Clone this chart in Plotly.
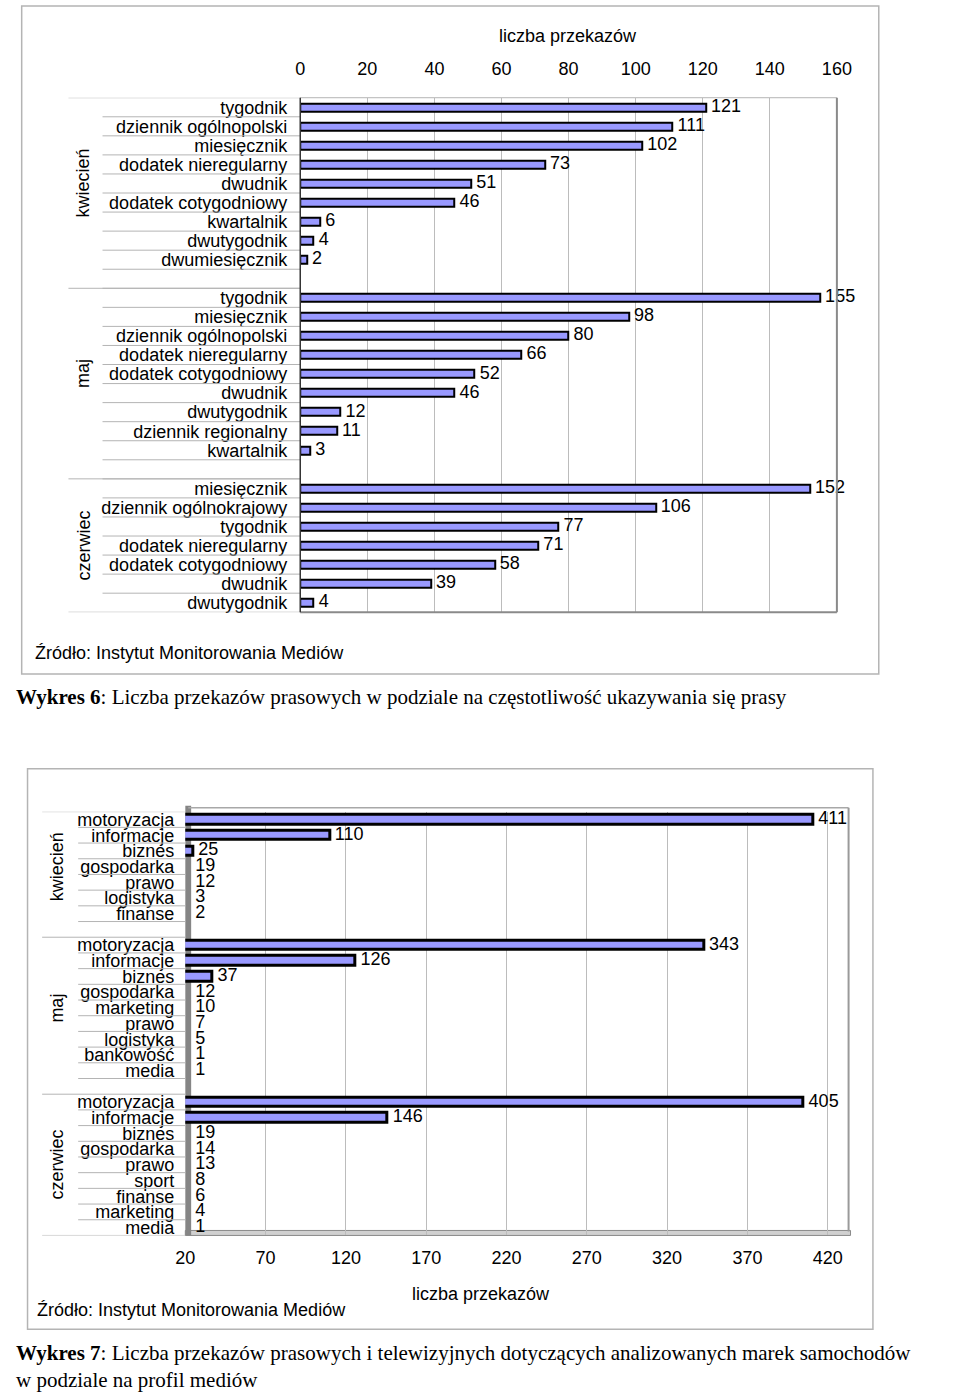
import plotly.graph_objects as go

W, H = 960, 1395
SANS = "Liberation Sans, Arial, sans-serif"
SERIF = "Liberation Serif, Times New Roman, serif"

# ---------------- data: Wykres 6 ----------------
months = ["kwiecień", "maj", "czerwiec"]
kw_cats = ["tygodnik", "dziennik ogólnopolski", "miesięcznik", "dodatek nieregularny",
           "dwudnik", "dodatek cotygodniowy", "kwartalnik", "dwutygodnik", "dwumiesięcznik"]
kw_vals = [121, 111, 102, 73, 51, 46, 6, 4, 2]
maj_cats = ["tygodnik", "miesięcznik", "dziennik ogólnopolski", "dodatek nieregularny",
            "dodatek cotygodniowy", "dwudnik", "dwutygodnik", "dziennik regionalny", "kwartalnik"]
maj_vals = [155, 98, 80, 66, 52, 46, 12, 11, 3]
cz_cats = ["miesięcznik", "dziennik ogólnokrajowy", "tygodnik", "dodatek nieregularny",
           "dodatek cotygodniowy", "dwudnik", "dwutygodnik"]
cz_vals = [152, 106, 77, 71, 58, 39, 4]
ticks1 = [0, 20, 40, 60, 80, 100, 120, 140, 160]

# ---------------- data: Wykres 7 ----------------
kw2_cats = ["motoryzacja", "informacje", "biznes", "gospodarka", "prawo", "logistyka", "finanse"]
kw2_vals = [411, 110, 25, 19, 12, 3, 2]
maj2_cats = ["motoryzacja", "informacje", "biznes", "gospodarka", "marketing", "prawo",
             "logistyka", "bankowość", "media"]
maj2_vals = [343, 126, 37, 12, 10, 7, 5, 1, 1]
cz2_cats = ["motoryzacja", "informacje", "biznes", "gospodarka", "prawo", "sport",
            "finanse", "marketing", "media"]
cz2_vals = [405, 146, 19, 14, 13, 8, 6, 4, 1]
ticks2 = [20, 70, 120, 170, 220, 270, 320, 370, 420]

axis_title = "liczba przekazów"
source = "Źródło: Instytut Monitorowania Mediów"
caption6 = "<b>Wykres 6</b>: Liczba przekazów prasowych w podziale na częstotliwość ukazywania się prasy"
caption7 = ("<b>Wykres 7</b>: Liczba przekazów prasowych i telewizyjnych dotyczących analizowanych marek samochodów"
            "<br>w podziale na profil mediów")

BAR_FILL = "#9999ff"


def px(x):
    return x / W


def py(y):
    return 1 - y / H


def build_slots(groups, gap_after_each):
    rows, ranges = [], []
    s = 0
    for gi, (cats, vals) in enumerate(groups):
        start = s
        for c, v in zip(cats, vals):
            rows.append((s, c, v))
            s += 1
        end = s
        if gap_after_each[gi]:
            s += 1
        ranges.append((start, end, s))
    return rows, ranges, s


fig = go.Figure()
shapes = []
annotations = []

# =============== Chart 1 ===============
rows1, ranges1, n1 = build_slots([(kw_cats, kw_vals), (maj_cats, maj_vals), (cz_cats, cz_vals)],
                                 [True, True, False])
y1 = [r[0] for r in rows1]
v1 = [r[2] for r in rows1]
fig.add_trace(go.Bar(x=v1, y=y1, orientation="h", width=0.42, xaxis="x", yaxis="y",
                     marker=dict(color=BAR_FILL, line=dict(color="black", width=2)),
                     hoverinfo="skip", showlegend=False))
fig.add_trace(go.Scatter(x=v1, y=y1, mode="text", text=[" " + str(v) for v in v1],
                         textposition="middle right", xaxis="x", yaxis="y", cliponaxis=False,
                         textfont=dict(family=SANS, size=18, color="black"),
                         hoverinfo="skip", showlegend=False))

X1L, X1R, Y1T, Y1B = 298, 849, 96, 612
for gi, (start, end, nxt) in enumerate(ranges1):
    shapes.append(dict(type="line", xref="paper", yref="y", x0=px(60), x1=px(X1L),
                       y0=start - 0.5, y1=start - 0.5, line=dict(color="#b4b4b4", width=1)))
    for b in range(start, nxt):
        if gi == len(ranges1) - 1 and b == nxt - 1:
            continue
        shapes.append(dict(type="line", xref="paper", yref="y", x0=px(95), x1=px(X1L),
                           y0=b + 0.5, y1=b + 0.5, line=dict(color="#b4b4b4", width=1)))
    annotations.append(dict(text=months[gi], xref="paper", yref="y", x=px(75),
                            y=(start + end - 1) / 2, textangle=-90, showarrow=False,
                            xanchor="center", yanchor="middle",
                            font=dict(family=SANS, size=18, color="black")))
shapes.append(dict(type="line", xref="paper", yref="y", x0=px(60), x1=px(X1L),
                   y0=n1 - 0.5, y1=n1 - 0.5, line=dict(color="#b4b4b4", width=1)))
shapes.append(dict(type="line", xref="paper", yref="paper", x0=px(X1L), x1=px(X1R),
                   y0=py(Y1T), y1=py(Y1T), line=dict(color="#b4b4b4", width=1)))
shapes.append(dict(type="line", xref="paper", yref="paper", x0=px(X1R), x1=px(X1R),
                   y0=py(Y1T), y1=py(Y1B), line=dict(color="#8a8a8a", width=2)))
shapes.append(dict(type="line", xref="paper", yref="paper", x0=px(X1L), x1=px(X1R),
                   y0=py(Y1B), y1=py(Y1B), line=dict(color="#8a8a8a", width=2)))
shapes.append(dict(type="line", xref="paper", yref="paper", x0=px(X1L), x1=px(X1L),
                   y0=py(Y1T), y1=py(Y1B), line=dict(color="#333333", width=1.5)))
shapes.append(dict(type="rect", xref="paper", yref="paper", x0=px(12), x1=px(892),
                   y0=py(4), y1=py(674), line=dict(color="#b4b4b4", width=1.5)))
annotations.append(dict(text=axis_title, xref="paper", yref="paper", x=px(573), y=py(34),
                        xanchor="center", yanchor="middle", showarrow=False,
                        font=dict(family=SANS, size=18, color="black")))
annotations.append(dict(text=source, xref="paper", yref="paper", x=px(24), y=py(653),
                        xanchor="left", yanchor="middle", showarrow=False,
                        font=dict(family=SANS, size=18, color="black")))
annotations.append(dict(text=caption6, xref="paper", yref="paper", x=px(4), y=py(697),
                        xanchor="left", yanchor="middle", showarrow=False,
                        font=dict(family=SERIF, size=21, color="black")))

# =============== Chart 2 ===============
rows2, ranges2, n2 = build_slots([(kw2_cats, kw2_vals), (maj2_cats, maj2_vals), (cz2_cats, cz2_vals)],
                                 [True, True, False])
y2 = [r[0] for r in rows2]
v2 = [r[2] for r in rows2]
X2MIN, X2MAX = 20, 433
LABEL_MIN = 23
fig.add_trace(go.Bar(x=v2, y=y2, orientation="h", width=0.6, xaxis="x2", yaxis="y2",
                     marker=dict(color=BAR_FILL, line=dict(color="black", width=3)),
                     hoverinfo="skip", showlegend=False))
fig.add_trace(go.Scatter(x=[max(v, LABEL_MIN) for v in v2], y=y2, mode="text",
                         text=[" " + str(v) for v in v2], textposition="middle right",
                         xaxis="x2", yaxis="y2", cliponaxis=False,
                         textfont=dict(family=SANS, size=18, color="black"),
                         hoverinfo="skip", showlegend=False))

X2L, X2R, Y2T, Y2B = 180, 861, 812, 1237
for gi, (start, end, nxt) in enumerate(ranges2):
    shapes.append(dict(type="line", xref="paper", yref="y2", x0=px(33), x1=px(X2L),
                       y0=start - 0.5, y1=start - 0.5, line=dict(color="#b4b4b4", width=1)))
    for b in range(start, nxt):
        if b == nxt - 1:
            continue
        shapes.append(dict(type="line", xref="paper", yref="y2", x0=px(70), x1=px(X2L),
                           y0=b + 0.5, y1=b + 0.5, line=dict(color="#b4b4b4", width=1)))
    annotations.append(dict(text=months[gi], xref="paper", yref="y2", x=px(48),
                            y=(start + end - 1) / 2, textangle=-90, showarrow=False,
                            xanchor="center", yanchor="middle",
                            font=dict(family=SANS, size=18, color="black")))
shapes.append(dict(type="line", xref="paper", yref="y2", x0=px(33), x1=px(X2L),
                   y0=n2 - 0.5, y1=n2 - 0.5, line=dict(color="#b4b4b4", width=1)))
shapes.append(dict(type="line", xref="paper", yref="paper", x0=px(183), x1=px(X2R),
                   y0=py(808), y1=py(808), line=dict(color="#a8a8a8", width=1.5)))
shapes.append(dict(type="line", xref="paper", yref="paper", x0=px(X2R), x1=px(X2R),
                   y0=py(808), y1=py(1233), line=dict(color="#9a9a9a", width=2)))
shapes.append(dict(type="rect", xref="paper", yref="paper", x0=px(X2L), x1=px(X2R + 2),
                   y0=py(1232), y1=py(1237), fillcolor="#d0d0d0", layer="between",
                   line=dict(color="#8a8a8a", width=1)))
shapes.append(dict(type="rect", xref="paper", yref="paper", x0=px(X2L), x1=px(186),
                   y0=py(806), y1=py(1237), fillcolor="#858585", layer="between",
                   line=dict(width=0)))
shapes.append(dict(type="rect", xref="paper", yref="paper", x0=px(18), x1=px(886),
                   y0=py(769), y1=py(1331), line=dict(color="#b4b4b4", width=1.5)))
annotations.append(dict(text=axis_title, xref="paper", yref="paper", x=px(484), y=py(1296),
                        xanchor="center", yanchor="middle", showarrow=False,
                        font=dict(family=SANS, size=18, color="black")))
annotations.append(dict(text=source, xref="paper", yref="paper", x=px(26), y=py(1312),
                        xanchor="left", yanchor="middle", showarrow=False,
                        font=dict(family=SANS, size=18, color="black")))
annotations.append(dict(text=caption7, xref="paper", yref="paper", x=px(4), y=py(1341),
                        xanchor="left", yanchor="top", align="left", showarrow=False,
                        font=dict(family=SERIF, size=21, color="black")))

fig.update_layout(
    width=W, height=H, margin=dict(l=0, r=0, t=0, b=0),
    paper_bgcolor="white", plot_bgcolor="white",
    bargap=0, showlegend=False,
    xaxis=dict(domain=[px(X1L), px(X1R)], range=[0, 160], side="top", anchor="y",
               tickvals=ticks1, ticktext=[str(t) for t in ticks1], ticks="",
               ticklabelstandoff=18, showgrid=True, gridcolor="#bcbcbc", gridwidth=1,
               zeroline=False, showline=False,
               tickfont=dict(family=SANS, size=18, color="black"), fixedrange=True),
    yaxis=dict(domain=[py(Y1B), py(Y1T)], range=[n1 - 0.5, -0.5], anchor="x",
               tickvals=y1, ticktext=[r[1] for r in rows1], ticks="",
               ticklabelstandoff=12, showgrid=False, zeroline=False, showline=False,
               tickfont=dict(family=SANS, size=18, color="black"), fixedrange=True),
    xaxis2=dict(domain=[px(X2L), px(X2R)], range=[X2MIN, X2MAX], anchor="y2",
                tickvals=ticks2, ticktext=[str(t) for t in ticks2], ticks="",
                ticklabelstandoff=10, showgrid=True, gridcolor="#bcbcbc", gridwidth=1,
                zeroline=False, showline=False,
                tickfont=dict(family=SANS, size=18, color="black"), fixedrange=True),
    yaxis2=dict(domain=[py(Y2B), py(Y2T)], range=[n2 - 0.5, -0.5], anchor="x2",
                tickvals=y2, ticktext=[r[1] for r in rows2], ticks="",
                ticklabelstandoff=10, showgrid=False, zeroline=False, showline=False,
                tickfont=dict(family=SANS, size=18, color="black"), fixedrange=True),
    shapes=shapes, annotations=annotations,
)

fig.write_html("out.html",
               config={"displayModeBar": False},
               post_script="document.body.style.margin='0px';"
                           "document.documentElement.style.overflow='hidden';"
                           "document.body.style.overflow='hidden';")
